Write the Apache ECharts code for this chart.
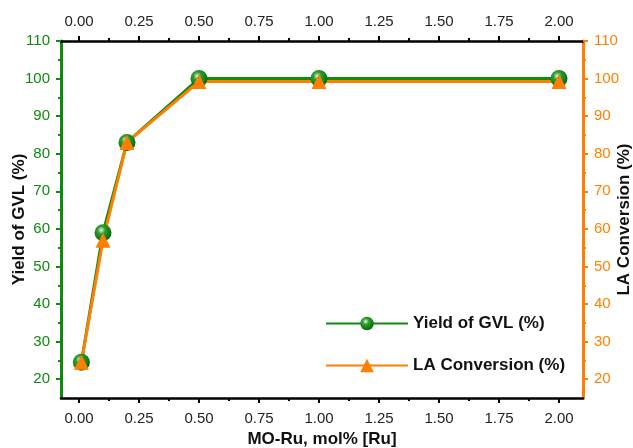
<!DOCTYPE html>
<html>
<head>
<meta charset="utf-8">
<script src="https://cdn.jsdelivr.net/npm/echarts@6/dist/echarts.min.js"></script>
<style>html,body{margin:0;padding:0;background:#fff}#c{width:633px;height:448px}</style>
</head>
<body>
<div id="c"></div>
<script>
var xValues = [0.01, 0.1, 0.2, 0.5, 1.0, 2.0];
var yieldGVL = [24.5, 59, 83, 100, 100, 100];
var laConversion = [24.5, 57, 83, 99.2, 99.2, 99.2];
var xMajorTicks = [0, 0.25, 0.5, 0.75, 1.0, 1.25, 1.5, 1.75, 2.0];
var xMinorTicks = [0.125, 0.375, 0.625, 0.875, 1.125, 1.375, 1.625, 1.875];
var yMajorTicks = [20, 30, 40, 50, 60, 70, 80, 90, 100, 110];
var yMinorTicks = [25, 35, 45, 55, 65, 75, 85, 95, 105];

var FONT = 'Liberation Sans, Arial, sans-serif';
var GREEN = '#0f8a0f';
var ORANGE = '#ff8000';

function xAx(pos, minor, withName, margin) {
  var o = {
    type: 'value', position: pos, min: -0.075, max: 2.1,
    splitLine: {show: false},
    axisLine: {show: !minor, onZero: false, lineStyle: {color: '#000', width: 2.5}},
    axisTick: {show: true, inside: false, length: minor ? 3 : 5, customValues: minor ? xMinorTicks : xMajorTicks,
               lineStyle: {color: '#000', width: 2}},
    axisLabel: {show: !minor, customValues: xMajorTicks, color: '#222', fontSize: 15, fontFamily: FONT, margin: margin || 10,
                formatter: function (v) { return v.toFixed(2); }}
  };
  if (withName) {
    o.name = 'MO-Ru, mol% [Ru]';
    o.nameLocation = 'middle';
    o.nameGap = 33;
    o.nameMoveOverlap = false;
    o.nameTextStyle = {color: '#111', fontSize: 17, fontWeight: 'bold', fontFamily: FONT};
  }
  return o;
}
function yAx(pos, minor, color, name, gap) {
  var o = {
    type: 'value', position: pos, min: 15, max: 110,
    splitLine: {show: false},
    axisLine: {show: !minor, onZero: false, lineStyle: {color: color, width: 3}},
    axisTick: {show: true, inside: false, length: minor ? 3 : 5, customValues: minor ? yMinorTicks : yMajorTicks,
               lineStyle: {color: color, width: 2}},
    axisLabel: {show: !minor, customValues: yMajorTicks, color: color, fontSize: 15, fontFamily: FONT, margin: 11}
  };
  if (name) {
    o.name = name;
    o.nameLocation = 'middle';
    o.nameGap = gap;
    o.nameRotate = 90;
    o.nameMoveOverlap = false;
    o.nameTextStyle = {color: '#111', fontSize: 17, fontWeight: 'bold', fontFamily: FONT};
  }
  return o;
}

var chart = echarts.init(document.getElementById('c'), null, {renderer: 'canvas'});
chart.setOption({
  animation: false,
  backgroundColor: '#fff',
  grid: {left: 61, right: 50, top: 41, bottom: 50, containLabel: false, outerBoundsMode: 'none'},
  legend: {
    orient: 'vertical', left: 320, top: 310, itemWidth: 82, itemHeight: 17, itemGap: 25,
    textStyle: {color: '#111', fontSize: 17, fontWeight: 'bold', fontFamily: FONT},
    data: ['Yield of GVL (%)', 'LA Conversion (%)']
  },
  xAxis: [xAx('bottom', false, true, 13), xAx('bottom', true, false), xAx('top', false, false, 12), xAx('top', true, false)],
  yAxis: [yAx('left', false, GREEN, 'Yield of GVL (%)', 33), yAx('left', true, GREEN, null),
          yAx('right', false, ORANGE, 'LA Conversion (%)', 33), yAx('right', true, ORANGE, null)],
  series: [
    {
      name: 'Yield of GVL (%)', type: 'line', xAxisIndex: 0, yAxisIndex: 0,
      data: xValues.map(function (x, i) { return [x, yieldGVL[i]]; }),
      symbol: 'circle', symbolSize: 17,
      lineStyle: {color: GREEN, width: 3},
      itemStyle: {
        color: {type: 'radial', x: 0.4, y: 0.35, r: 0.65, colorStops: [
          {offset: 0, color: '#e8f5e8'}, {offset: 0.35, color: '#2e9e2e'}, {offset: 1, color: '#066806'}]}
      }
    },
    {
      name: 'LA Conversion (%)', type: 'line', xAxisIndex: 0, yAxisIndex: 2,
      data: xValues.map(function (x, i) { return [x, laConversion[i]]; }),
      symbol: 'triangle', symbolSize: 15,
      lineStyle: {color: ORANGE, width: 3},
      itemStyle: {color: ORANGE}
    }
  ]
});
</script>
</body>
</html>
